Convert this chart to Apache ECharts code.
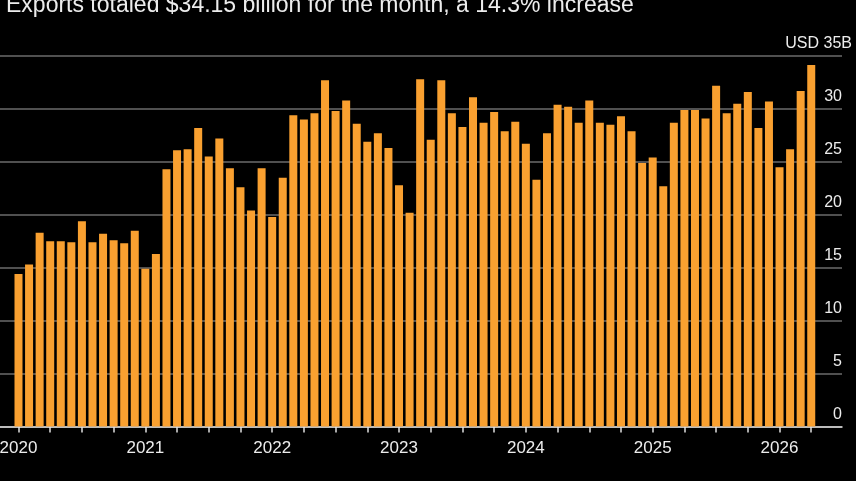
<!DOCTYPE html>
<html>
<head>
<meta charset="utf-8">
<script src="https://cdn.jsdelivr.net/npm/echarts@6/dist/echarts.min.js"></script>
<style>
html,body{margin:0;padding:0;background:#000;}
#chart{width:856px;height:481px;}
</style>
</head>
<body>
<div id="chart"></div>
<script>
// ---- data ----
const years = ['2020','2021','2022','2023','2024','2025','2026'];
const monthNames = ['Jan','Feb','Mar','Apr','May','Jun','Jul','Aug','Sep','Oct','Nov','Dec'];
// monthly exports, USD billions (Jan 2020 .. Apr 2026)
const exports2020 = [14.4, 15.3, 18.3, 17.5, 17.5, 17.4, 19.4, 17.4, 18.2, 17.6, 17.3, 18.5];
const exports2021 = [14.9, 16.3, 24.3, 26.1, 26.2, 28.2, 25.5, 27.2, 24.4, 22.6, 20.4, 24.4];
const exports2022 = [19.8, 23.5, 29.4, 29.0, 29.6, 32.7, 29.8, 30.8, 28.6, 26.9, 27.7, 26.3];
const exports2023 = [22.8, 20.2, 32.8, 27.1, 32.7, 29.6, 28.3, 31.1, 28.7, 29.7, 27.9, 28.8];
const exports2024 = [26.7, 23.3, 27.7, 30.4, 30.2, 28.7, 30.8, 28.7, 28.5, 29.3, 27.9, 24.9];
const exports2025 = [25.4, 22.7, 28.7, 29.9, 29.9, 29.1, 32.2, 29.6, 30.5, 31.6, 28.2, 30.7];
const exports2026 = [24.5, 26.2, 31.7, 34.15];
const yTicks = [0, 5, 10, 15, 20, 25, 30, 35];
const titleText = 'Exports totaled $34.15 billion for the month, a 14.3% increase';
const sourceText = "Source: Brazil's Ministry of Development, Industry, Trade and Services";

const values = [].concat(exports2020, exports2021, exports2022, exports2023, exports2024, exports2025, exports2026);
const categories = [];
years.forEach(y => monthNames.forEach(m => categories.push(y + '-' + m)));
categories.length = values.length;

const quarterTicks = [];
const yearTicks = [];
categories.forEach((c, i) => {
  if (c.endsWith('Jan') || c.endsWith('Apr') || c.endsWith('Jul') || c.endsWith('Oct')) quarterTicks.push(i);
  if (c.endsWith('Jan')) yearTicks.push(i);
});

const chart = echarts.init(document.getElementById('chart'), null, {renderer: 'canvas'});
const option = {
  backgroundColor: '#000',
  animation: false,
  title: [{
    text: titleText,
    left: 1,
    top: -11,
    textStyle: {color: '#ececec', fontFamily: 'Liberation Sans', fontSize: 23, fontWeight: 'normal'}
  }, {
    text: sourceText,
    left: 1,
    top: 475,
    textStyle: {color: '#8a8a8a', fontFamily: 'Liberation Sans', fontSize: 15, fontWeight: 'normal'}
  }],
  grid: {left: 0, right: 14, top: 56, bottom: 54.5, containLabel: false, outerBoundsMode: 'none'},
  xAxis: {
    type: 'value',
    min: -1.75,
    max: 77.91,
    splitLine: {show: false},
    axisLine: {show: true, lineStyle: {color: '#e0e0e0', width: 1.5}},
    axisTick: {show: true, customValues: quarterTicks, length: 6, lineStyle: {color: '#e0e0e0', width: 1.5}},
    axisLabel: {
      show: true,
      customValues: yearTicks,
      formatter: v => categories[v].slice(0, 4),
      color: '#ececec',
      fontFamily: 'Liberation Sans',
      fontSize: 17,
      margin: 13
    }
  },
  yAxis: {
    type: 'value',
    position: 'right',
    min: yTicks[0],
    max: yTicks[yTicks.length - 1],
    interval: 5,
    axisLine: {show: false},
    axisTick: {show: false},
    splitLine: {show: true, lineStyle: {color: '#505050', width: 2}},
    axisLabel: {
      inside: true,
      margin: -10,
      verticalAlign: 'bottom',
      formatter: v => v === 35 ? '{u|USD 35B}' : '{n|' + v + '}',
      rich: {
        n: {color: '#ececec', fontFamily: 'Liberation Sans', fontSize: 16, padding: [0, 10, 4, 0]},
        u: {color: '#ececec', fontFamily: 'Liberation Sans', fontSize: 16, padding: [0, 0, 4, 0]}
      }
    }
  },
  series: [{
    type: 'bar',
    data: values.map((v, i) => [i, v]),
    barWidth: 8,
    itemStyle: {color: '#f9a030'}
  }]
};
chart.setOption(option);
</script>
</body>
</html>
